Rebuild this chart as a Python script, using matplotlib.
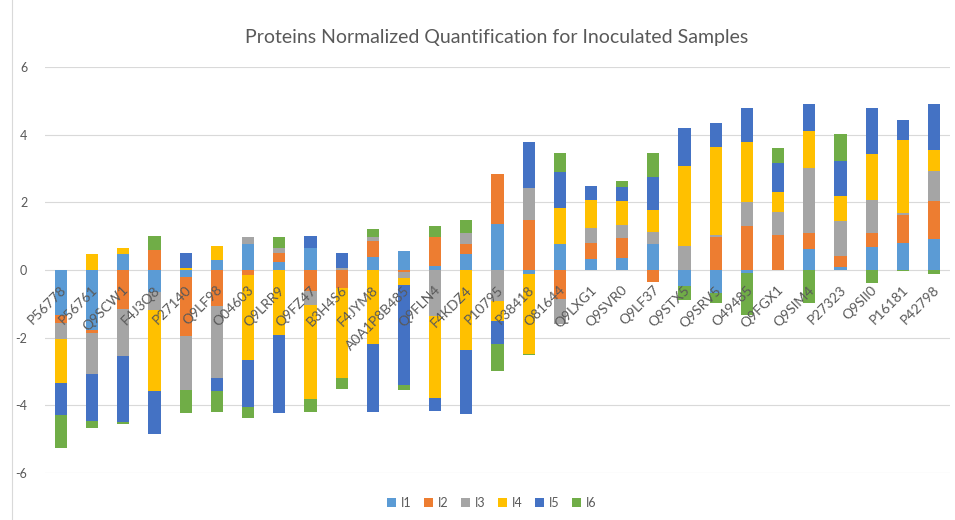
import matplotlib
matplotlib.use("Agg")
import matplotlib.pyplot as plt
import matplotlib.transforms as mtransforms
from matplotlib.lines import Line2D
import numpy as np

categories = ["P56778", "P56761", "Q9SCW1", "F4J3Q8", "P27140", "Q9LF98", "O04603",
              "Q9LRR9", "Q9FZ47", "B3H4S6", "F4JYM8", "A0A1P8B485", "Q9FLN4", "F4KDZ4",
              "P10795", "P38418", "O81644", "Q9LXG1", "Q9SVR0", "Q9LF37", "Q9STX5",
              "Q9SRV5", "O49485", "Q9FGX1", "Q9SIM4", "P27323", "Q9SII0", "P16181", "P42798"]

I1 = [-1.34, -1.76, 0.48, -0.65, -0.20, 0.30, 0.76, 0.25, 0.66, 0.0, 0.39, 0.56, 0.12, 0.46,
      1.37, -0.13, 0.77, 0.33, 0.36, 0.77, -0.46, -0.68, -0.09, 0.01, 0.63, 0.08, 0.68, 0.80, 0.92]
I2 = [-0.22, -0.10, -1.16, 0.58, -1.74, -1.07, -0.14, 0.24, -0.62, -0.52, 0.46, -0.06, 0.87, 0.30,
      1.46, 1.48, -0.85, 0.46, 0.60, -0.36, 0.0, 0.98, 1.29, 1.02, 0.46, 0.32, 0.41, 0.84, 1.13]
I3 = [-0.48, -1.21, -1.37, -0.54, -1.60, -2.12, 0.21, 0.16, -0.42, 0.06, 0.14, -0.19, -1.36, 0.34,
      -0.92, 0.93, -0.74, 0.44, 0.38, 0.35, 0.70, 0.05, 0.71, 0.67, 1.92, 1.06, 0.98, 0.05, 0.88]
I4 = [-1.31, 0.46, 0.16, -2.40, 0.05, 0.41, -2.51, -1.93, -2.76, -2.68, -2.20, -0.18, -2.43, -2.36,
      -0.59, -2.34, 1.06, 0.83, 0.70, 0.66, 2.38, 2.62, 1.77, 0.60, 1.10, 0.73, 1.35, 2.16, 0.62]
I5 = [-0.94, -1.38, -1.96, -1.27, 0.46, -0.40, -1.40, -2.29, 0.34, 0.45, -2.00, -2.98, -0.39, -1.90,
      -0.69, 1.37, 1.08, 0.41, 0.40, 0.98, 1.13, 0.69, 1.01, 0.87, 0.80, 1.03, 1.36, 0.59, 1.36]
I6 = [-0.97, -0.22, -0.07, 0.42, -0.68, -0.62, -0.31, 0.32, -0.41, -0.33, 0.23, -0.13, 0.32, 0.39,
      -0.79, -0.05, 0.56, 0.0, 0.19, 0.71, -0.43, -0.30, -1.25, 0.44, -0.97, 0.79, -0.38, -0.03, -0.12]

series_names = ["I1", "I2", "I3", "I4", "I5", "I6"]
series_values = [I1, I2, I3, I4, I5, I6]
colors = ["#5B9BD5", "#ED7D31", "#A5A5A5", "#FFC000", "#4472C4", "#70AD47"]
yticks = [-6, -4, -2, 0, 2, 4, 6]

plt.rcParams['font.family'] = ['Lato', 'DejaVu Sans']
txt = "#595959"

fig = plt.figure(figsize=(9.55, 5.2), dpi=100)
ax = fig.add_axes([45.4 / 955, 1 - 473 / 520, (949.6 - 45.4) / 955, (473 - 67) / 520])

x = np.arange(len(categories))
pos = np.zeros(len(categories))
neg = np.zeros(len(categories))
for name, vals, c in zip(series_names, series_values, colors):
    v = np.array(vals, dtype=float)
    bottom = np.where(v >= 0, pos, neg)
    ax.bar(x, v, 0.39, bottom=bottom, color=c, label=name, zorder=3)
    pos = pos + np.where(v >= 0, v, 0)
    neg = neg + np.where(v < 0, v, 0)

ax.set_xlim(-0.5, len(categories) - 0.5)
ax.set_ylim(-6, 6)
ax.set_yticks(yticks)
ax.set_yticklabels([str(t) for t in yticks], color=txt, fontsize=9)
ax.tick_params(axis='y', length=0, pad=13)
ax.set_xticks([])
for s in ax.spines.values():
    s.set_visible(False)
ax.grid(axis='y', color="#D9D9D9", linewidth=0.8, zorder=0)

offset = mtransforms.ScaledTranslation(2.5 / 72, -13 / 72, fig.dpi_scale_trans)
for i, lab in enumerate(categories):
    ax.text(i, 0, lab, rotation=45, ha='right', va='center', rotation_mode='anchor',
            fontsize=10, color=txt, transform=ax.transData + offset, zorder=4)

fig.text(0.52, 0.928, "Proteins Normalized Quantification for Inoculated Samples",
         ha='center', va='center', fontsize=14, color=txt)

fig.legend(loc='center', bbox_to_anchor=(0.515, 0.033), ncol=6, frameon=False,
           fontsize=9, handlelength=0.7, handleheight=0.7, handletextpad=0.4,
           columnspacing=1.0, labelcolor=txt)

fig.add_artist(Line2D([12 / 955, 12 / 955], [0, 1], transform=fig.transFigure,
                      color="#D9D9D9", linewidth=0.8))

fig.savefig("out.png", dpi=100)
